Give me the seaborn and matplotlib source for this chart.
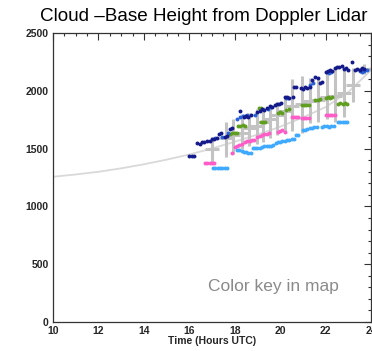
import matplotlib
matplotlib.use("Agg")
import matplotlib.pyplot as plt
import seaborn as sns
import pandas as pd
import numpy as np
from matplotlib.ticker import MultipleLocator

# ---------------- data ----------------
navy_t = [16.0, 16.1, 16.2, 16.35, 16.45, 16.55, 16.65, 16.8, 16.9, 17.0, 17.1, 17.2,
          17.3, 17.4, 17.55, 17.65, 17.8, 17.9, 18.24, 18.4, 18.5, 18.6, 18.7,
          19.0, 19.1, 19.2, 19.3, 19.4, 19.55, 19.65, 19.75, 19.85, 19.95, 20.05,
          20.2, 20.3, 20.4, 20.55, 20.6, 20.7, 20.9, 21.0, 21.1, 21.2, 21.3, 21.4,
          21.55, 21.65, 21.75, 21.85, 22.0, 22.1, 22.2, 22.3, 22.4, 22.5, 22.6, 22.7,
          22.8, 22.9, 23.0, 23.17, 23.3, 23.4, 23.5, 23.6, 23.7]
navy_h = [1440, 1440, 1440, 1550, 1540, 1555, 1560, 1565, 1570, 1580, 1585, 1590,
          1630, 1640, 1600, 1610, 1670, 1680, 1830, 1770, 1780, 1775, 1790,
          1820, 1830, 1840, 1835, 1850, 1870, 1865, 1880, 1885, 1890, 1895,
          1945, 1950, 1940, 1950, 2030, 2035, 2025, 2020, 2030, 2025, 2030, 2095,
          2120, 2115, 2070, 2080, 2165, 2170, 2180, 2175, 2200, 2210, 2205, 2215,
          2190, 2195, 2185, 2250, 2180, 2190, 2185, 2195, 2190]

blue_t = [17.15, 17.45, 17.7, 18.1, 18.25, 18.35, 18.45, 18.55, 18.9, 19.45, 19.6,
          20.25, 20.35, 21.3, 21.45, 22.05, 22.15, 22.25, 23.5, 23.6, 23.7, 23.8]
blue_h = [1590, 1600, 1640, 1760, 1770, 1780, 1785, 1790, 1790, 1845, 1860,
          1940, 1935, 2050, 2070, 2160, 2155, 2165, 2170, 2165, 2175, 2180]

green_t = [17.8, 17.9, 18.0, 18.1, 18.15, 18.25, 18.35, 18.45, 19.05, 19.15,
           19.15, 19.25, 19.35, 19.9, 20.0, 20.1, 20.25, 20.4, 20.95, 21.05, 21.15, 21.25,
           21.55, 21.65, 21.75, 22.0, 22.1, 22.2, 22.3, 22.55, 22.65, 22.75, 22.85, 22.95]
green_h = [1630, 1635, 1640, 1635, 1695, 1700, 1705, 1700, 1850, 1855,
           1730, 1735, 1730, 1810, 1815, 1810, 1835, 1840, 1875, 1880, 1875, 1880,
           1925, 1920, 1930, 1940, 1945, 1940, 1945, 1890, 1895, 1890, 1895, 1890]

pink_t = [16.7, 16.8, 16.9, 17.0, 17.1, 17.9, 18.0, 18.1, 18.2, 18.3,
          18.45, 18.55, 18.65, 18.75, 18.85, 19.0, 19.1, 19.2, 19.3, 19.4, 19.5,
          19.9, 20.0, 20.1, 20.2, 20.5, 20.6, 20.7, 20.8, 20.95, 21.05, 21.15, 21.25,
          22.0, 22.1, 22.2, 22.3, 22.4]
pink_h = [1375, 1375, 1375, 1375, 1375, 1460, 1515, 1525, 1535, 1540,
          1560, 1565, 1570, 1575, 1575, 1600, 1610, 1620, 1625, 1630, 1635,
          1645, 1650, 1660, 1645, 1775, 1775, 1775, 1775, 1765, 1765, 1765, 1765,
          1790, 1790, 1790, 1790, 1790]

lblue_t = [17.05, 17.15, 17.25, 17.35, 17.45, 17.55, 17.65,
           18.1, 18.2, 18.3, 18.4, 18.5, 18.6, 18.7,
           18.8, 18.9, 19.0, 19.1, 19.2, 19.3, 19.4, 19.5, 19.6, 19.7,
           19.8, 19.9, 20.0, 20.1, 20.2, 20.3, 20.4, 20.5, 20.6,
           20.7, 20.8, 21.0, 21.1, 21.2, 21.3, 21.4, 21.5, 21.6,
           21.85, 21.95, 22.05, 22.15, 22.25, 22.35,
           22.55, 22.65, 22.75, 22.85, 22.95]
lblue_h = [1330, 1330, 1330, 1330, 1330, 1330, 1330,
           1490, 1485, 1480, 1475, 1470, 1465, 1465,
           1505, 1505, 1510, 1510, 1515, 1520, 1520, 1525, 1525, 1530,
           1550, 1555, 1560, 1565, 1570, 1575, 1575, 1580, 1585,
           1615, 1620, 1660, 1665, 1670, 1675, 1680, 1685, 1690,
           1690, 1695, 1700, 1690, 1695, 1700,
           1730, 1730, 1730, 1730, 1730]

cross_t = [17.0, 17.6, 17.93, 18.3, 18.63, 18.97, 19.25, 19.56, 19.87, 20.2,
           20.53, 20.96, 21.32, 21.67, 22.06, 22.42, 22.82, 23.2, 23.7]
cross_mid = [1500, 1590, 1620, 1640, 1680, 1700, 1730, 1760, 1790, 1830,
             1870, 1890, 1910, 1920, 1950, 1960, 1980, 2050, 2190]
cross_lo = [1380, 1430, 1450, 1500, 1520, 1540, 1560, 1590, 1620, 1640,
            1650, 1640, 1720, 1730, 1760, 1730, 1770, 1900, 2150]
cross_hi = [1600, 1730, 1760, 1800, 1810, 1840, 1860, 1880, 1900, 1950,
            2100, 2130, 2110, 2120, 2160, 2200, 2180, 2200, 2230]

curve_t = [10, 11, 12, 13, 14, 15, 16, 17, 18, 19, 20, 21, 22, 23, 24]
curve_h = [1257, 1277, 1300, 1330, 1365, 1405, 1450, 1502, 1560, 1622, 1690, 1770, 1860, 1990, 2180]

x_ticks = [10, 12, 14, 16, 18, 20, 22, 24]
y_ticks = [0, 500, 1000, 1500, 2000, 2500]

title = "Cloud \u2013Base Height from Doppler Lidar"
xlabel = "Time (Hours UTC)"
note = "Color key in map"

# ---------------- figure ----------------
sns.set_style("white")
plt.rcParams['font.family'] = ['Liberation Sans', 'DejaVu Sans']

fig = plt.figure(figsize=(3.72, 3.51), dpi=100)
ax = fig.add_axes([0.1425, 0.0826, 0.855, 0.823])

curve_df = pd.DataFrame({"t": curve_t, "h": curve_h})
sns.lineplot(data=curve_df, x="t", y="h", ax=ax, color="#d9d9d9", linewidth=1.3, zorder=1)

lo = np.array(cross_mid) - np.array(cross_lo)
hi = np.array(cross_hi) - np.array(cross_mid)
ax.errorbar(cross_t, cross_mid, yerr=[lo, hi], xerr=0.3, fmt="none",
            ecolor="#c3c3c3", elinewidth=2.2, capsize=0, zorder=2)

series = [
    (lblue_t, lblue_h, "#3fa9ff"),
    (pink_t, pink_h, "#ff5cc8"),
    (green_t, green_h, "#5f9e1e"),
    (blue_t, blue_h, "#2c62d8"),
    (navy_t, navy_h, "#141a8a"),
]
for t, h, c in series:
    df = pd.DataFrame({"t": t, "h": h})
    sns.scatterplot(data=df, x="t", y="h", ax=ax, color=c, s=8,
                    marker="o", linewidth=0, zorder=3)

ax.set_xlim(10, 24)
ax.set_ylim(0, 2500)
ax.set_xticks(x_ticks)
ax.set_yticks(y_ticks)
ax.xaxis.set_minor_locator(MultipleLocator(0.5))
ax.yaxis.set_minor_locator(MultipleLocator(100))
ax.tick_params(which="both", direction="in", top=True, right=True,
               labelsize=7.5, width=0.8, color="#333333")
ax.tick_params(which="major", length=5, pad=3)
ax.tick_params(which="minor", length=2.5)
for lab in ax.get_xticklabels() + ax.get_yticklabels():
    lab.set_fontweight("bold")
for s in ax.spines.values():
    s.set_color("#333333")
    s.set_linewidth(0.9)

ax.set_xlabel(xlabel, fontsize=7.5, fontweight="bold", labelpad=0)
ax.set_ylabel("")
ax.text(16.83, 303, note, fontsize=12.5, color="#8a8a8a", ha="left", va="center")
fig.text(0.548, 0.952, title, fontsize=13.6, ha="center", va="center", color="black")

fig.savefig("out.png", dpi=100)
